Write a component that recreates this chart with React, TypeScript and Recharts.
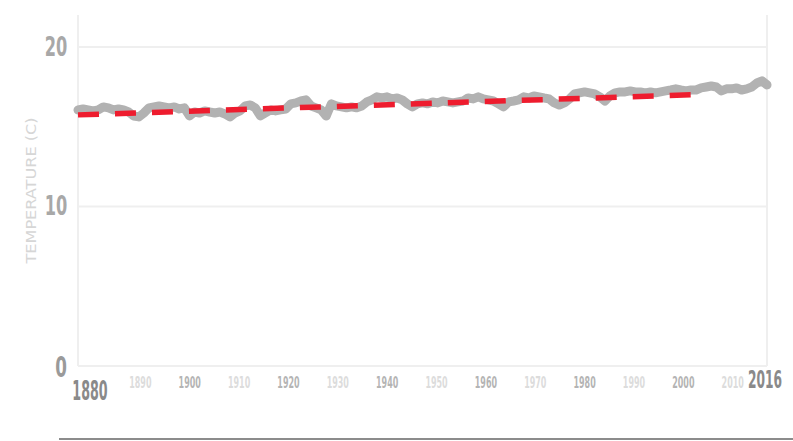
import React from "react";
import { LineChart, Line, XAxis, YAxis, CartesianGrid, Label } from "recharts";

const startYear = 1880;
const temps: number[] = [
  16.05, 16.11, 16.05, 15.99, 16.05, 16.24, 16.18, 16.05, 16.11, 16.05,
  15.92, 15.67, 15.61, 15.86, 16.18, 16.24, 16.3, 16.24, 16.18, 16.24,
  16.11, 16.18, 15.67, 15.92, 15.86, 15.99, 15.92, 15.86, 15.92, 15.8,
  15.61, 15.86, 15.99, 16.3, 16.36, 16.18, 15.67, 15.86, 16.05, 15.99,
  16.05, 16.11, 16.43, 16.49, 16.61, 16.68, 16.3, 16.18, 16.05, 15.67,
  16.43, 16.3, 16.24, 16.18, 16.24, 16.18, 16.3, 16.55, 16.68, 16.87,
  16.8, 16.87, 16.74, 16.8, 16.68, 16.43, 16.24, 16.43, 16.49, 16.43,
  16.55, 16.49, 16.61, 16.55, 16.49, 16.55, 16.61, 16.8, 16.74, 16.87,
  16.74, 16.68, 16.61, 16.43, 16.24, 16.55, 16.61, 16.68, 16.87, 16.8,
  16.93, 16.87, 16.8, 16.74, 16.49, 16.36, 16.49, 16.74, 17.05, 17.12,
  17.18, 17.12, 17.05, 16.87, 16.61, 16.93, 17.12, 17.18, 17.18, 17.24,
  17.18, 17.18, 17.12, 17.18, 17.12, 17.18, 17.24, 17.3, 17.37, 17.3,
  17.24, 17.3, 17.3, 17.43, 17.49, 17.55, 17.49, 17.24, 17.37, 17.37,
  17.43, 17.3, 17.37, 17.49, 17.74, 17.87, 17.62,
];

const trendYears = [1880, 2001];
const trendValues = [15.74, 17.0];

const xTicks = [1880, 1890, 1900, 1910, 1920, 1930, 1940, 1950, 1960, 1970, 1980, 1990, 2000, 2010, 2016];
const yTicks = [0, 10, 20];

const data = temps.map((t, i) => ({ year: startYear + i, temp: t }));
const trendData = trendYears.map((y, i) => ({ year: y, trend: trendValues[i] }));

const FONT = "'DejaVu Sans', sans-serif";

const Cond = ({ x, y, sx, size, fill, bold, children }: any) => (
  <g transform={`translate(${x},${y})`}>
    <text transform={`scale(${sx},1)`} x={0} y={0} textAnchor="middle" fill={fill} fontSize={size}
      fontWeight={bold ? "bold" : "normal"} fontFamily={FONT}>
      {children}
    </text>
  </g>
);

const XTick = (props: any) => {
  const { x, y, payload } = props;
  const v = payload.value;
  if (v === 1880) {
    return <Cond x={x + 12} y={y + 26} sx={0.47} size={27} fill="#8a8a8a" bold>{v}</Cond>;
  }
  if (v === 2016) {
    return <Cond x={x - 2} y={y + 14} sx={0.49} size={25} fill="#8a8a8a" bold>{v}</Cond>;
  }
  const dark = (v / 10) % 2 === 0;
  const shift = 13 - (v - 1880) * 0.13;
  return <Cond x={x + shift} y={y + 14} sx={0.5} size={16} fill={dark ? "#b4b4b4" : "#dcdcdc"} bold>{v}</Cond>;
};

const YTick = (props: any) => {
  const { x, y, payload } = props;
  const v = payload.value;
  const s = String(v);
  const w = s.length * 10;
  return (
    <Cond x={x - 4 - w / 2} y={y + (v === 0 ? 11 : 9)} sx={0.6} size={v === 0 ? 28 : 27} fill={v === 0 ? "#9a9a9a" : "#a8a8a8"} bold>
      {s}
    </Cond>
  );
};

const YLabel = (props: any) => {
  const { viewBox } = props;
  const cx = viewBox.x + 11;
  const cy = viewBox.y + viewBox.height / 2;
  return (
    <text x={cx - 73} y={cy} transform={`rotate(-90, ${cx}, ${cy})`} textAnchor="start" dominantBaseline="central"
      fill="#d6d6d6" fontSize={14} fontFamily={FONT} textLength={146} lengthAdjust="spacingAndGlyphs">
      TEMPERATURE (C)
    </text>
  );
};

export default function App() {
  return (
    <div style={{ position: "absolute", left: 0, top: 0, width: 793, height: 441, background: "#fff", overflow: "hidden" }}>
      <LineChart width={793} height={441} data={data} margin={{ top: 15, right: 26, bottom: 0, left: 20 }}>
        <CartesianGrid stroke="#efefef" strokeWidth={2} horizontalValues={yTicks} verticalValues={[1880, 2016]} />
        <XAxis
          dataKey="year"
          type="number"
          domain={[1880, 2016]}
          ticks={xTicks}
          interval={0}
          axisLine={false}
          tickLine={false}
          height={75}
          tick={<XTick />}
        />
        <YAxis
          type="number"
          domain={[0, 22]}
          ticks={yTicks}
          axisLine={false}
          tickLine={false}
          width={58}
          tick={<YTick />}
        >
          <Label content={<YLabel />} />
        </YAxis>
        <Line
          dataKey="temp"
          stroke="#b2b2b2"
          strokeWidth={9}
          dot={false}
          strokeLinejoin="round"
          strokeLinecap="round"
          isAnimationActive={false}
        />
        <Line
          data={trendData}
          dataKey="trend"
          stroke="#ee1c2e"
          strokeWidth={5.5}
          strokeDasharray="21 16"
          dot={false}
          isAnimationActive={false}
        />
      </LineChart>
      <div style={{ position: "absolute", left: 59, top: 438, width: 734, height: 2, background: "#8c8c8c" }} />
    </div>
  );
}
